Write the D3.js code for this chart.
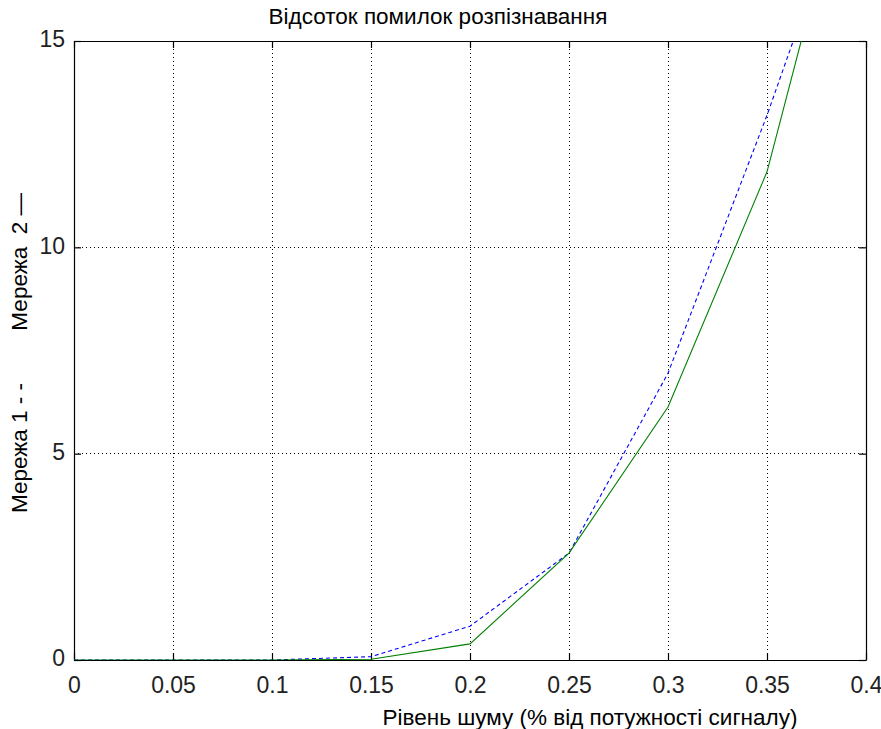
<!DOCTYPE html>
<html><head><meta charset="utf-8">
<script src="https://d3js.org/d3.v7.min.js"></script>
<style>body{margin:0;background:#fff}svg{display:block}text{font-family:"Liberation Sans",Arial,sans-serif}</style>
</head><body>
<script>
const noise = [0, 0.05, 0.1, 0.15, 0.2, 0.25, 0.3, 0.35, 0.4];
const net1 = [0, 0, 0, 0.08, 0.82, 2.59, 6.95, 13.2, 20.0];
const net2 = [0, 0, 0, 0.02, 0.39, 2.59, 6.13, 11.83, 21.0];
const xTicks = [0, 0.05, 0.1, 0.15, 0.2, 0.25, 0.3, 0.35, 0.4];
const xTickLabels = ["0", "0.05", "0.1", "0.15", "0.2", "0.25", "0.3", "0.35", "0.4"];
const yTicks = [0, 5, 10, 15];
const yTickLabels = ["0", "5", "10", "15"];
const title = "Відсоток помилок розпізнавання";
const xLabel = "Рівень шуму (% від потужності сигналу)";
const yLabelParts = ["Мережа 1 - -", "Мережа  2 —"];

const W = 881, H = 729;
const L = 74, R = 866, T = 41, B = 660;
const svg = d3.select("body").append("svg").attr("width", W).attr("height", H);
const x = d3.scaleLinear().domain([0, 0.4]).range([L, R]);
const y = d3.scaleLinear().domain([0, 15]).range([B, T]);

svg.append("defs").append("clipPath").attr("id", "clip")
  .append("rect").attr("x", L).attr("y", T).attr("width", R - L).attr("height", B - T);

// grid
const g = svg.append("g");
xTicks.slice(1, -1).forEach(v => {
  g.append("line").attr("x1", x(v)).attr("x2", x(v)).attr("y1", T).attr("y2", B)
    .attr("stroke", "#000").attr("stroke-width", 1).attr("stroke-dasharray", "1,3").attr("shape-rendering", "crispEdges");
});
yTicks.slice(1, -1).forEach(v => {
  g.append("line").attr("x1", L).attr("x2", R).attr("y1", y(v)).attr("y2", y(v))
    .attr("stroke", "#000").attr("stroke-width", 1).attr("stroke-dasharray", "1,3").attr("shape-rendering", "crispEdges");
});

// axes with inward ticks
const fs = "23px";
const ax = svg.append("g").attr("transform", `translate(0,${B})`)
  .call(d3.axisBottom(x).tickValues(xTicks).tickFormat((d, i) => xTickLabels[i]).tickSizeInner(-7).tickSizeOuter(0).tickPadding(17));
const axT = svg.append("g").attr("transform", `translate(0,${T})`)
  .call(d3.axisTop(x).tickValues(xTicks).tickFormat("").tickSizeInner(-7).tickSizeOuter(0));
const ay = svg.append("g").attr("transform", `translate(${L},0)`)
  .call(d3.axisLeft(y).tickValues(yTicks).tickFormat((d, i) => yTickLabels[i]).tickSizeInner(-7).tickSizeOuter(0).tickPadding(9));
const ayR = svg.append("g").attr("transform", `translate(${R},0)`)
  .call(d3.axisRight(y).tickValues(yTicks).tickFormat("").tickSizeInner(-7).tickSizeOuter(0));
[ax, axT, ay, ayR].forEach(a => {
  a.select(".domain").attr("stroke", "#000").attr("stroke-width", 1.2);
  a.selectAll(".tick line").attr("stroke", "#000").attr("stroke-width", 1.2);
  a.selectAll("text").attr("font-size", fs).attr("fill", "#222").style("font-family", "Liberation Sans, Arial, sans-serif");
});
ax.selectAll("text").attr("dy", "0.71em");
ay.selectAll("text").attr("dy", "0.26em");

// lines
const line = d3.line().x((d, i) => x(noise[i])).y(d => y(d));
const lg = svg.append("g").attr("clip-path", "url(#clip)");
lg.append("path").datum(net1).attr("d", line).attr("fill", "none")
  .attr("stroke", "#0000ff").attr("stroke-width", 1.1).attr("stroke-dasharray", "4,3");
lg.append("path").datum(net2).attr("d", line).attr("fill", "none")
  .attr("stroke", "#008000").attr("stroke-width", 1.1);

// labels
svg.append("text").attr("x", 438).attr("y", 24).attr("text-anchor", "middle")
  .attr("font-size", "22.5px").attr("fill", "#000").text(title);
svg.append("text").attr("x", 590).attr("y", 725).attr("text-anchor", "middle")
  .attr("font-size", "22.5px").attr("fill", "#000").text(xLabel);
const yl = svg.append("g").attr("transform", `translate(27,0) rotate(-90)`);
yl.append("text").attr("x", -513).attr("y", 0).attr("text-anchor", "start")
  .attr("font-size", "22.5px").attr("fill", "#000").text(yLabelParts[0]);
yl.append("text").attr("x", -193).attr("y", 0).attr("text-anchor", "end")
  .attr("font-size", "22.5px").attr("fill", "#000").style("white-space", "pre").text(yLabelParts[1]);
</script>
</body></html>
